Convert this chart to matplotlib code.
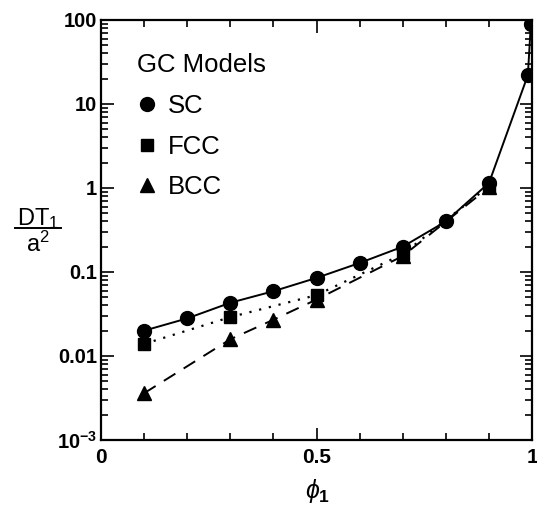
import matplotlib
matplotlib.use("Agg")
import matplotlib.pyplot as plt
from matplotlib.lines import Line2D
from matplotlib.ticker import FixedLocator, LogLocator, NullFormatter, FixedFormatter

plt.rcParams["font.family"] = ["Liberation Sans", "DejaVu Sans"]
plt.rcParams["mathtext.fontset"] = "custom"
plt.rcParams["mathtext.rm"] = "Liberation Sans"
plt.rcParams["mathtext.it"] = "Liberation Sans:italic"
plt.rcParams["mathtext.bf"] = "Liberation Sans:bold"

# Values.
sc_x = [0.1, 0.2, 0.3, 0.4, 0.5, 0.6, 0.7, 0.8, 0.9, 0.99, 0.997]
sc_y = [0.020, 0.028, 0.043, 0.059, 0.085, 0.128, 0.20, 0.40, 1.15, 22.0, 90.0]

fcc_x = [0.1, 0.3, 0.5, 0.7, 0.9]
fcc_y = [0.0139, 0.029, 0.053, 0.163, 1.05]

bcc_x = [0.1, 0.3, 0.4, 0.5, 0.7, 0.9]
bcc_y = [0.0036, 0.0158, 0.027, 0.047, 0.155, 1.02]

y_ticks = [1e-3, 1e-2, 1e-1, 1, 10, 100]
y_tick_labels = [r"$\mathbf{10}^{\mathbf{-3}}$", "0.01", "0.1", "1", "10", "100"]
x_ticks = [0, 0.5, 1]
x_tick_labels = ["0", "0.5", "1"]

fig = plt.figure(figsize=(5.37, 5.11), dpi=100)
ax = fig.add_axes([0.188, 0.139, 0.803, 0.822])

ax.plot(sc_x, sc_y, "-", color="black", lw=1.4, marker="o", ms=10, zorder=3)
ax.plot(fcc_x, fcc_y, color="black", lw=1.6, ls=(0, (1, 3.5)), marker="s",
        ms=9, zorder=2)
ax.plot(bcc_x, bcc_y, color="black", lw=1.4, ls=(0, (7, 5)), marker="^",
        ms=10, zorder=2)

ax.set_yscale("log")
ax.set_xlim(0, 1)
ax.set_ylim(1e-3, 100)

ax.yaxis.set_major_locator(FixedLocator(y_ticks))
ax.yaxis.set_major_formatter(FixedFormatter(y_tick_labels))
ax.yaxis.set_minor_locator(LogLocator(base=10, subs=range(2, 10)))
ax.yaxis.set_minor_formatter(NullFormatter())
ax.xaxis.set_major_locator(FixedLocator(x_ticks))
ax.xaxis.set_major_formatter(FixedFormatter(x_tick_labels))
ax.xaxis.set_minor_locator(FixedLocator([0.1, 0.2, 0.3, 0.4, 0.6, 0.7, 0.8, 0.9]))

ax.tick_params(which="both", direction="in", top=True, right=True, width=1.2)
ax.tick_params(which="major", length=9)
ax.tick_params(which="minor", length=5)
ax.tick_params(axis="y", which="major", labelsize=14.5, pad=3)
ax.tick_params(axis="x", which="major", labelsize=15, pad=6)
for lab in ax.get_xticklabels() + ax.get_yticklabels():
    lab.set_fontweight("bold")

for s in ax.spines.values():
    s.set_linewidth(1.6)

# legend: markers only
handles = [
    Line2D([], [], ls="none", color="black", marker="o", ms=10),
    Line2D([], [], ls="none", color="black", marker="s", ms=9),
    Line2D([], [], ls="none", color="black", marker="^", ms=10),
]
leg = ax.legend(handles, ["SC", "FCC", "BCC"], loc="upper left",
                bbox_to_anchor=(0.084, 0.921), frameon=False,
                title="GC Models", fontsize=18.5, title_fontsize=18.5,
                handlelength=0.8, handletextpad=0.4, labelspacing=0.65,
                borderaxespad=0, borderpad=0)
leg._legend_box.align = "left"

# y label as a stacked fraction
fig.text(0.071, 0.573, r"DT$_1$", fontsize=17, ha="center", va="center")
fig.add_artist(Line2D([0.028, 0.113], [0.553, 0.553], color="black", lw=1.4,
                      transform=fig.transFigure))
fig.text(0.071, 0.522, r"a$^2$", fontsize=17, ha="center", va="center")

fig.text(0.592, 0.04, r"$\phi_\mathbf{1}$", fontsize=18, ha="center",
         va="center", fontweight="bold")

fig.savefig("out.png", dpi=100)
